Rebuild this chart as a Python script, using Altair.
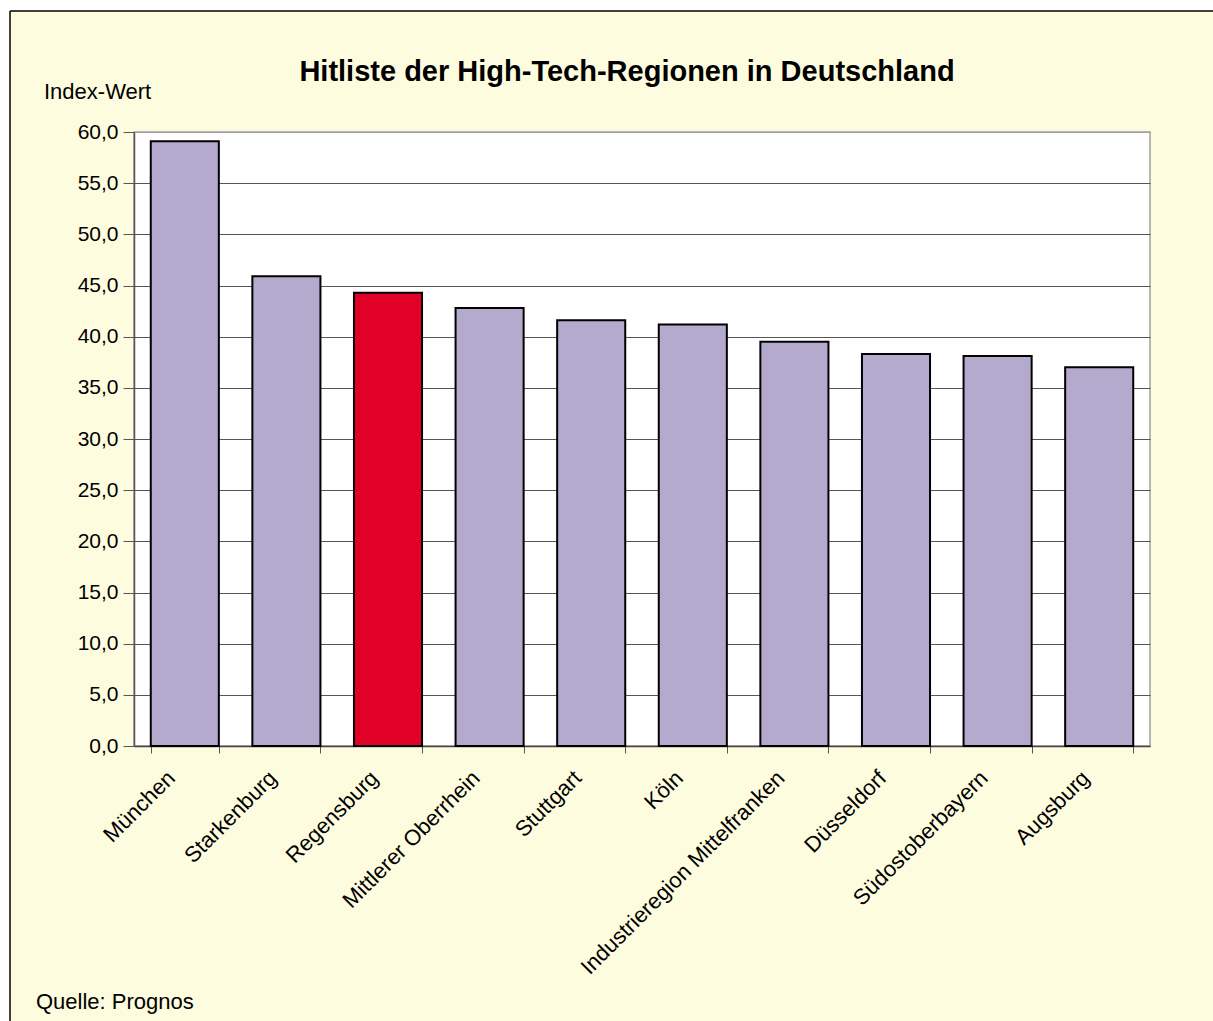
import altair as alt
import pandas as pd

regions = ["München", "Starkenburg", "Regensburg", "Mittlerer Oberrhein", "Stuttgart",
           "Köln", "Industrieregion Mittelfranken", "Düsseldorf", "Südostoberbayern", "Augsburg"]
values = [59.1, 45.9, 44.3, 42.8, 41.6, 41.2, 39.5, 38.3, 38.1, 37.0]
highlight = ["Regensburg"]
y_ticks = [0, 5, 10, 15, 20, 25, 30, 35, 40, 45, 50, 55, 60]

title_text = "Hitliste der High-Tech-Regionen in Deutschland"
y_title = "Index-Wert"
source_text = "Quelle: Prognos"

FONT = "Liberation Sans"
CREAM = "#FEFCDF"
LAVENDER = "#B4AACD"
RED = "#E00028"

W, H = 1016, 614
PL, PT = 134, 132

df = pd.DataFrame({"region": regions, "value": values})
df["hl"] = df["region"].isin(highlight)

bars = alt.Chart(df).mark_bar(stroke="black", strokeWidth=2).encode(
    x=alt.X("region:N", sort=None, title=None,
            scale=alt.Scale(paddingInner=0.33, paddingOuter=0.165),
            axis=alt.Axis(labelAngle=-45, labelAlign="right", labelBaseline="top",
                          labelFont=FONT, labelFontSize=22, labelColor="black",
                          labelPadding=14, labelOffset=-21, labelLimit=0,
                          tickBand="extent", tickSize=7,
                          tickColor="#555555", domainColor="#444444", domainWidth=1.5,
                          ticks=True, grid=False, labelOverlap=False)),
    y=alt.Y("value:Q", title=None,
            scale=alt.Scale(domain=[0, 60], nice=False),
            axis=alt.Axis(values=y_ticks,
                          labelExpr="replace(format(datum.value, '.1f'), '.', ',')",
                          labelFont=FONT, labelFontSize=21, labelColor="black",
                          labelPadding=5, tickSize=11, tickColor="#555555",
                          domainColor="#555555", domainWidth=1.5,
                          grid=True,
                          gridColor={"condition": {"test": "datum.value === 60", "value": "#A0A0A0"},
                                     "value": "#555555"},
                          gridWidth=1.2)),
    color=alt.Color("hl:N", scale=alt.Scale(domain=[False, True], range=[LAVENDER, RED]),
                    legend=None),
)

one = pd.DataFrame({"a": [0]})

white_top = alt.Chart(one).mark_rect(color="white").encode(
    x=alt.value(-PL - 5), x2=alt.value(W + 80), y=alt.value(-PT - 5), y2=alt.value(-121))
white_left = alt.Chart(one).mark_rect(color="white").encode(
    x=alt.value(-PL - 5), x2=alt.value(-124), y=alt.value(-PT - 5), y2=alt.value(H + 290))
rule_top = alt.Chart(one).mark_rule(color="black", strokeWidth=1.5).encode(
    x=alt.value(-124), x2=alt.value(W + 80), y=alt.value(-121))
rule_left = alt.Chart(one).mark_rule(color="black", strokeWidth=1.5).encode(
    x=alt.value(-124), y=alt.value(-121), y2=alt.value(H + 290))

title = alt.Chart(pd.DataFrame({"t": [title_text]})).mark_text(
    font=FONT, fontSize=29, fontWeight="bold", align="center", baseline="alphabetic",
    color="black").encode(text="t:N", x=alt.value(627 - PL), y=alt.value(81 - PT))
ytitle = alt.Chart(pd.DataFrame({"t": [y_title]})).mark_text(
    font=FONT, fontSize=22, align="left", baseline="alphabetic", color="black").encode(
    text="t:N", x=alt.value(44 - PL), y=alt.value(99 - PT))
source = alt.Chart(pd.DataFrame({"t": [source_text]})).mark_text(
    font=FONT, fontSize=22, align="left", baseline="alphabetic", color="black").encode(
    text="t:N", x=alt.value(36 - PL), y=alt.value(1009 - PT))

chart = alt.layer(white_top, white_left, rule_top, rule_left, bars, title, ytitle, source).properties(
    width=W, height=H,
    background=CREAM,
    padding={"left": PL, "top": PT, "right": 1213 - PL - W, "bottom": 1021 - PT - H},
    autosize=alt.AutoSizeParams(type="none"),
).configure_view(fill="white", stroke="#A0A0A0", strokeWidth=1.5)

chart.save("out.html", embed_options={"renderer": "svg", "actions": False})
